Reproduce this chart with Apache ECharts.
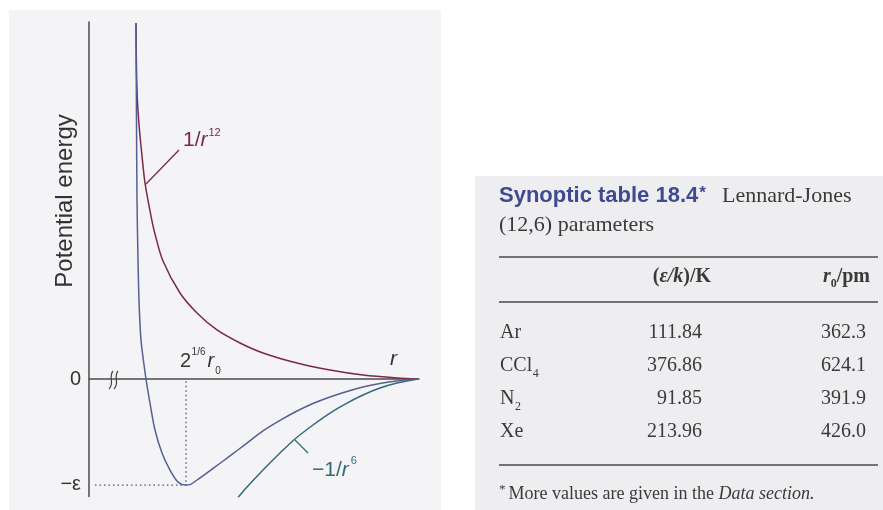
<!DOCTYPE html>
<html>
<head>
<meta charset="utf-8">
<title>Lennard-Jones potential</title>
<script src="https://cdn.jsdelivr.net/npm/echarts@6/dist/echarts.min.js"></script>
<style>
  html, body { margin: 0; padding: 0; background: #fff; }
  #chart { width: 883px; height: 510px; }
</style>
</head>
<body>
<div id="chart"></div>
<script>
// curves (x = r, y = energy in units of epsilon)
const rRep = [1.424, 1.439, 1.470, 1.530, 1.597, 1.697, 1.879, 2.000, 2.242, 2.758, 3.273, 3.879, 4.576, 5.273, 6.303, 7.303, 8.303, 9.333, 9.970];
const eRep = [3.39, 2.943, 2.629, 2.371, 2.152, 1.867, 1.552, 1.381, 1.124, 0.819, 0.629, 0.467, 0.343, 0.248, 0.152, 0.086, 0.038, 0.010, 0];

const rLJ = [1.424, 1.439, 1.455, 1.485, 1.515, 1.576, 1.727, 1.848, 2.000, 2.212, 2.455, 2.697, 2.939, 3.061, 3.273, 3.758, 4.273, 4.788, 5.273, 5.788, 6.303, 6.788, 7.303, 7.818, 8.303, 8.818, 9.333, 9.970];
const eLJ = [3.39, 2.467, 1.695, 1.133, 0.752, 0.371, 0, -0.229, -0.486, -0.705, -0.867, -0.981, -1.010, -1.006, -0.962, -0.852, -0.733, -0.610, -0.495, -0.395, -0.305, -0.233, -0.171, -0.119, -0.076, -0.043, -0.019, 0];

const rAtt = [4.515, 4.788, 5.273, 5.788, 6.242, 6.788, 7.303, 7.818, 8.303, 8.818, 9.333, 9.970];
const eAtt = [-1.129, -1.029, -0.867, -0.705, -0.571, -0.438, -0.324, -0.229, -0.152, -0.086, -0.038, 0];

// dotted guides to the minimum
const guideR = [0.18, 2.94, 2.94];
const guideE = [-1.01, -1.01, 0];

const yTickValues = [-1, 0];
const yTickLabels = ['−ε', '0'];

// Synoptic table 18.4
const species = ['Ar', 'CCl', 'N', 'Xe'];
const speciesSub = ['', '4', '2', ''];
const epsOverK = ['111.84', '376.86', '91.85', '213.96'];
const r0pm = ['362.3', '624.1', '391.9', '426.0'];

const SANS = '"Liberation Sans", Arial, sans-serif';
const SERIF = '"Liberation Serif", "Times New Roman", serif';
const RED = '#7b2947';
const BLUE = '#565e96';
const TEAL = '#2f6b7a';
const INK = '#333';

const measureCtx = document.createElement('canvas').getContext('2d');
function textWidth(str, size, family, style, weight) {
  measureCtx.font = (style || 'normal') + ' ' + (weight || 'normal') + ' ' + size + 'px ' + family;
  return measureCtx.measureText(str).width;
}

function label(x, y, text, opt) {
  return {
    type: 'text', x: x, y: y, z: 10, silent: true,
    style: Object.assign({
      text: text, fill: INK, fontSize: 20, fontFamily: SANS,
      align: 'left', verticalAlign: 'middle'
    }, opt)
  };
}

function hline(x1, x2, y, color, width) {
  return {
    type: 'line', z: 5, silent: true,
    shape: { x1: x1, y1: y, x2: x2, y2: y },
    style: { stroke: color, lineWidth: width }
  };
}

const graphics = [];

// panels
graphics.push({ type: 'rect', z: -1, silent: true, shape: { x: 9, y: 10, width: 432, height: 500 }, style: { fill: '#f4f4f6' } });
graphics.push({ type: 'rect', z: -1, silent: true, shape: { x: 475, y: 176, width: 408, height: 334 }, style: { fill: '#eeeef0' } });

// axis title
graphics.push({
  type: 'text', x: 65, y: 201, rotation: Math.PI / 2, z: 10, silent: true,
  style: { text: 'Potential energy', fill: INK, fontSize: 24, fontFamily: SANS, align: 'center', verticalAlign: 'middle' }
});

// axis break marks
[0, 5].forEach(function (dx) {
  graphics.push({
    type: 'bezierCurve', z: 10, silent: true,
    shape: { x1: 113 + dx, y1: 371, x2: 109 + dx, y2: 389, cpx1: 108 + dx, cpy1: 377, cpx2: 115 + dx, cpy2: 383 },
    style: { stroke: '#444', lineWidth: 1.2, fill: null }
  });
});

// 1/r^12 label
(function () {
  let x = 183;
  graphics.push(label(x, 140, '1/', { fill: RED, fontSize: 21 }));
  x += textWidth('1/', 21, SANS);
  graphics.push(label(x, 140, 'r', { fill: RED, fontSize: 21, fontStyle: 'italic' }));
  x += textWidth('r', 21, SANS, 'italic') + 1;
  graphics.push(label(x, 133, '12', { fill: RED, fontSize: 11 }));
  graphics.push({ type: 'line', z: 10, silent: true, shape: { x1: 179, y1: 150, x2: 146, y2: 184 }, style: { stroke: RED, lineWidth: 1.3 } });
})();

// -1/r^6 label
(function () {
  let x = 312;
  graphics.push(label(x, 470, '−1/', { fill: TEAL, fontSize: 21 }));
  x += textWidth('−1/', 21, SANS);
  graphics.push(label(x, 470, 'r', { fill: TEAL, fontSize: 21, fontStyle: 'italic' }));
  x += textWidth('r', 21, SANS, 'italic') + 2;
  graphics.push(label(x, 461, '6', { fill: TEAL, fontSize: 11 }));
  graphics.push({ type: 'line', z: 10, silent: true, shape: { x1: 295, y1: 440, x2: 308, y2: 453 }, style: { stroke: TEAL, lineWidth: 1.3 } });
})();

// 2^(1/6) r0 label
(function () {
  let x = 180;
  graphics.push(label(x, 361, '2', { fontSize: 20 }));
  x += textWidth('2', 20, SANS) + 0.5;
  graphics.push(label(x, 352, '1/6', { fontSize: 10 }));
  x += textWidth('1/6', 10, SANS) + 2;
  graphics.push(label(x, 361, 'r', { fontSize: 20, fontStyle: 'italic' }));
  x += textWidth('r', 20, SANS, 'italic') + 1;
  graphics.push(label(x, 371, '0', { fontSize: 10 }));
})();

// r at the end of the axis
graphics.push(label(390, 359, 'r', { fontSize: 21, fontStyle: 'italic' }));

// ---- table ----
(function () {
  const left = 499;
  const TBLUE = '#3f4a8f';
  const TINK = '#3a3a3a';
  let x = left;
  graphics.push(label(x, 196, 'Synoptic table 18.4', { fill: TBLUE, fontSize: 22, fontWeight: 'bold' }));
  x += textWidth('Synoptic table 18.4', 22, SANS, 'normal', 'bold') + 1;
  graphics.push(label(x, 193, '*', { fill: TBLUE, fontSize: 17, fontWeight: 'bold' }));
  graphics.push(label(722, 196, 'Lennard-Jones', { fill: TINK, fontSize: 22, fontFamily: SERIF }));
  graphics.push(label(left, 225, '(12,6) parameters', { fill: TINK, fontSize: 22, fontFamily: SERIF }));

  graphics.push(hline(left, 878, 257, '#4a4a4a', 1.4));
  graphics.push(hline(left, 878, 302, '#4a4a4a', 1.4));
  graphics.push(hline(left, 878, 465, '#4a4a4a', 1.4));

  // header (ε/k)/K, right aligned at 711
  const hp = [['(', 'normal'], ['ε/k', 'italic'], [')/K', 'normal']];
  let total = 0;
  hp.forEach(function (p) { total += textWidth(p[0], 20, SERIF, p[1], 'bold'); });
  x = 711 - total;
  hp.forEach(function (p) {
    graphics.push(label(x, 277, p[0], { fill: TINK, fontSize: 20, fontFamily: SERIF, fontStyle: p[1], fontWeight: 'bold' }));
    x += textWidth(p[0], 20, SERIF, p[1], 'bold');
  });

  // header r0/pm, right aligned at 870
  total = textWidth('r', 20, SERIF, 'italic', 'bold') + textWidth('0', 12, SERIF, 'normal', 'bold') + textWidth('/pm', 20, SERIF, 'normal', 'bold');
  x = 870 - total;
  graphics.push(label(x, 277, 'r', { fill: TINK, fontSize: 20, fontFamily: SERIF, fontStyle: 'italic', fontWeight: 'bold' }));
  x += textWidth('r', 20, SERIF, 'italic', 'bold');
  graphics.push(label(x, 284, '0', { fill: TINK, fontSize: 12, fontFamily: SERIF, fontWeight: 'bold' }));
  x += textWidth('0', 12, SERIF, 'normal', 'bold');
  graphics.push(label(x, 277, '/pm', { fill: TINK, fontSize: 20, fontFamily: SERIF, fontWeight: 'bold' }));

  // rows
  const rowY = [333, 366, 399, 432];
  species.forEach(function (name, i) {
    const y = rowY[i];
    graphics.push(label(500, y, name, { fill: TINK, fontSize: 20, fontFamily: SERIF }));
    if (speciesSub[i]) {
      const sx = 500 + textWidth(name, 20, SERIF) + 0.5;
      graphics.push(label(sx, y + 8, speciesSub[i], { fill: TINK, fontSize: 12, fontFamily: SERIF }));
    }
    graphics.push(label(702, y, epsOverK[i], { fill: TINK, fontSize: 20, fontFamily: SERIF, align: 'right' }));
    graphics.push(label(866, y, r0pm[i], { fill: TINK, fontSize: 20, fontFamily: SERIF, align: 'right' }));
  });

  // footnote
  x = left;
  graphics.push(label(x, 490, '*', { fill: TINK, fontSize: 13, fontFamily: SERIF }));
  x += textWidth('*', 13, SERIF) + 3;
  const note = 'More values are given in the ';
  graphics.push(label(x, 494, note, { fill: TINK, fontSize: 18, fontFamily: SERIF }));
  x += textWidth(note, 18, SERIF);
  graphics.push(label(x, 494, 'Data section.', { fill: TINK, fontSize: 18, fontFamily: SERIF, fontStyle: 'italic' }));
})();

function pairs(xs, ys) {
  return xs.map(function (v, i) { return [v, ys[i]]; });
}

const option = {
  animation: false,
  backgroundColor: '#fff',
  grid: { left: 89, top: 22, width: 330, height: 474.6, containLabel: false, outerBoundsMode: 'none' },
  xAxis: {
    type: 'value', min: 0, max: 10,
    axisLine: { onZero: true, lineStyle: { color: '#4a4a4a', width: 1.5 } },
    axisTick: { show: false },
    axisLabel: { show: false },
    splitLine: { show: false }
  },
  yAxis: {
    type: 'value', min: -1.12, max: 3.4,
    axisLine: { show: true, onZero: false, lineStyle: { color: '#4a4a4a', width: 1.5 } },
    axisTick: { show: false },
    splitLine: { show: false },
    axisLabel: {
      customValues: yTickValues,
      margin: 8,
      color: INK,
      fontSize: 20,
      fontFamily: SANS,
      formatter: function (v) { return yTickLabels[yTickValues.indexOf(v)]; }
    }
  },
  series: [
    {
      name: 'guide', type: 'line', data: pairs(guideR, guideE),
      showSymbol: false, silent: true, z: 1,
      lineStyle: { color: '#555', width: 1.3, type: [1.5, 3] }
    },
    {
      name: '-1/r^6', type: 'line', data: pairs(rAtt, eAtt),
      showSymbol: false, smooth: 0.3, z: 2,
      lineStyle: { color: TEAL, width: 1.5 }
    },
    {
      name: '1/r^12', type: 'line', data: pairs(rRep, eRep),
      showSymbol: false, smooth: 0.3, z: 3,
      lineStyle: { color: RED, width: 1.5 }
    },
    {
      name: 'Lennard-Jones', type: 'line', data: pairs(rLJ, eLJ),
      showSymbol: false, smooth: 0.3, z: 4,
      lineStyle: { color: BLUE, width: 1.5 }
    }
  ],
  graphic: graphics
};

const myChart = echarts.init(document.getElementById('chart'));
myChart.setOption(option);
</script>
</body>
</html>
